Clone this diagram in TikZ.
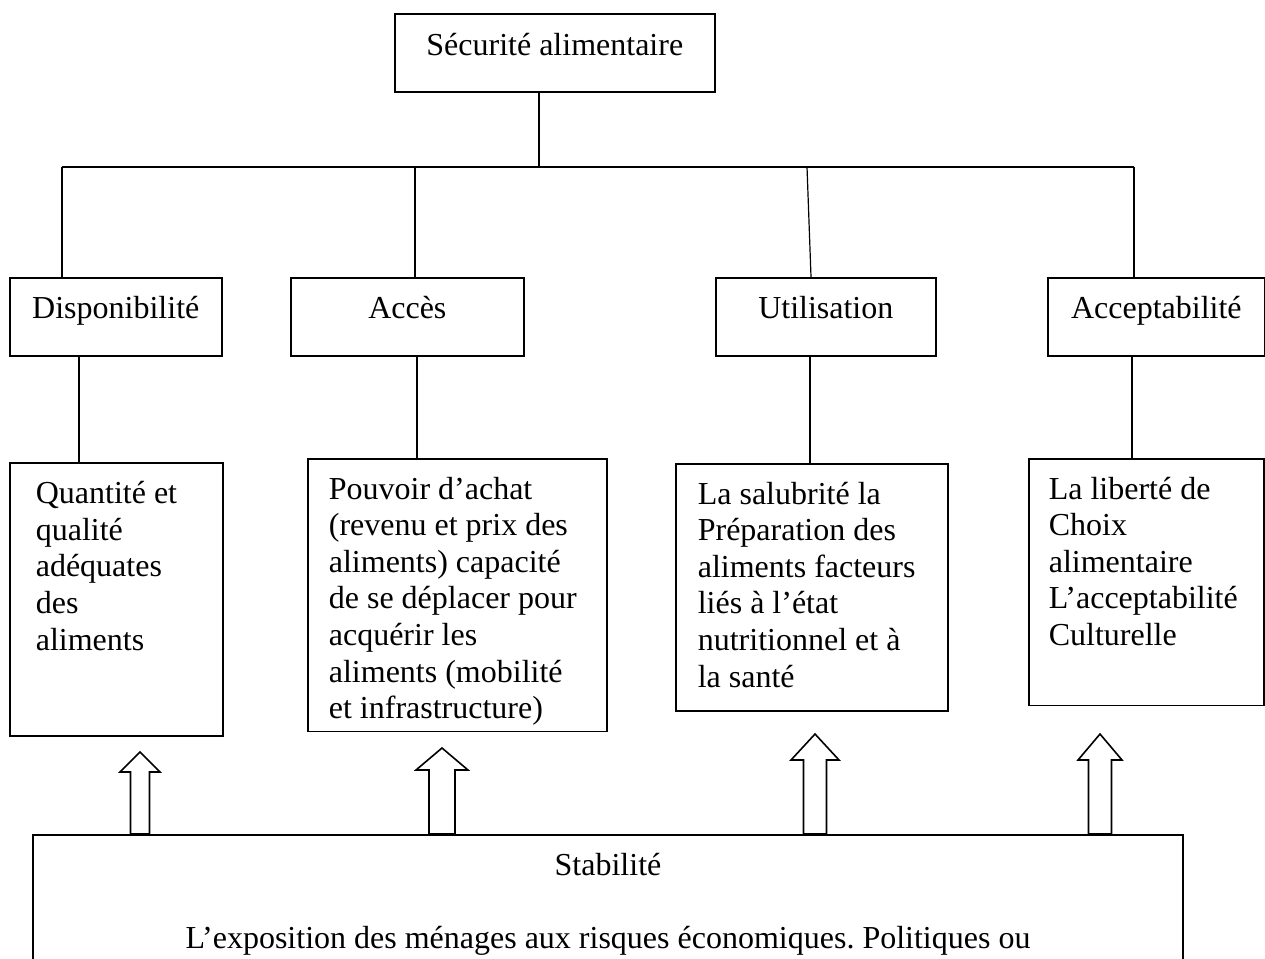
\documentclass[tikz,border=0pt]{standalone}
\usepackage{fontspec}
\setmainfont{Liberation Serif}
\usepackage{tikz}
\usetikzlibrary{positioning, calc}
\tikzset{
    headbox/.style={draw, line width=0.6pt, anchor=north west, inner sep=0pt, align=center, text height=15.4pt, text depth=13.9pt},
    detail/.style={draw, line width=0.6pt, anchor=north west, align=flush left, inner ysep=0pt, text height=15.2pt},
    basebox/.style={draw, line width=0.6pt, anchor=north, align=flush center, inner sep=0pt, text height=15.4pt, text depth=80pt},
    link/.style={line width=0.45pt},
    hollow/.style={draw, line width=0.6pt, fill=white, line join=miter}
}

\begin{document}
\frenchspacing
\begin{tikzpicture}[x=0.375pt, y=-0.375pt, every node/.style={font=\fontsize{12pt}{13.7pt}\selectfont}]
    \path[use as bounding box, clip] (0,0) rectangle (1265,958);

    \node[headbox, minimum width=120pt, text height=15.75pt, text depth=13.5pt] (secu) at (394,13) {Sécurité alimentaire};

    \node[headbox, minimum width=79.5pt] (dispo) at (9,277) {Disponibilité};
    \node[headbox, minimum width=87.4pt] (acces) at (290,277) {Accès};
    \node[headbox, minimum width=82.5pt] (utilis) at (715,277) {Utilisation};
    \node[headbox, minimum width=81.4pt] (accept) at (1047,277) {Acceptabilité};

    \node[detail, text width=60.4pt, inner xsep=9.75pt, text height=15.4pt, text depth=87pt] (dispoD) at (9,462) {Quantité et\\ qualité\\ adéquates\\ des\\ aliments};
    \node[detail, text width=96.4pt, inner xsep=7.9pt, text depth=87pt] (accesD) at (307,458) {Pouvoir d’achat\\ (revenu et prix des\\ aliments) capacité\\ de se déplacer pour\\ acquérir les\\ aliments (mobilité\\ et infrastructure)};
    \node[detail, text width=85.5pt, inner xsep=8.25pt, text depth=77.6pt] (utilisD) at (675,463) {La salubrité la\\ Préparation des\\ aliments facteurs\\ liés à l’état\\ nutritionnel et à\\ la santé};
    \node[detail, text width=73.1pt, inner xsep=7.5pt, text depth=77.3pt] (acceptD) at (1028,458) {La liberté de\\ Choix\\ alimentaire\\ L’acceptabilité\\ Culturelle};

    \node[basebox, text width=431.25pt] (stab) at (608,834) {Stabilité\\[13.7pt] L’exposition des ménages aux risques économiques. Politiques ou};

    % tree lines
    \coordinate (hub) at (539,167);
    \coordinate (barL) at (62,167);
    \coordinate (barR) at (1134,167);
    \coordinate (jAcc) at (415,167);
    \coordinate (jUtil) at (807,167);
    \coordinate (tUtil) at (811,0);
    \draw[link] (hub |- secu.south) -- (hub);
    \draw[link] (barL) -- (barR);
    \draw[link] (barL) -- (barL |- dispo.north);
    \draw[link] (jAcc) -- (jAcc |- acces.north);
    \draw[link] (jUtil) -- (tUtil |- utilis.north);
    \draw[link] (barR) -- (barR |- accept.north);

    \coordinate (sDispo) at (79,0);
    \coordinate (sAcc) at (417,0);
    \coordinate (sUtil) at (810,0);
    \coordinate (sAccept) at (1132,0);
    \draw[link] (sDispo |- dispo.south) -- (sDispo |- dispoD.north);
    \draw[link] (sAcc |- acces.south) -- (sAcc |- accesD.north);
    \draw[link] (sUtil |- utilis.south) -- (sUtil |- utilisD.north);
    \draw[link] (sAccept |- accept.south) -- (sAccept |- acceptD.north);

    % block arrows
    \foreach \cx/\tip/\head/\shaft/\neck in {140/752/20/9.5/772, 442/748/26/13/770, 815/734/24/11.5/760, 1100/734/22/11.5/760}
        \draw[hollow] (\cx-\shaft,834) -- (\cx-\shaft,\neck) -- (\cx-\head,\neck) -- (\cx,\tip) -- (\cx+\head,\neck) -- (\cx+\shaft,\neck) -- (\cx+\shaft,834) -- cycle;
\end{tikzpicture}
\end{document}
